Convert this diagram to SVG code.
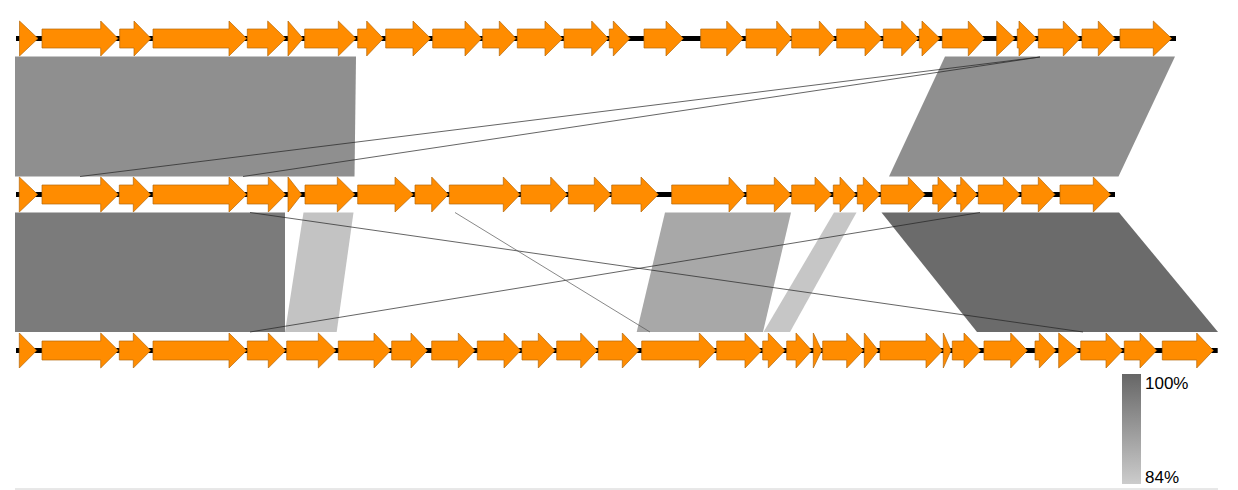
<svg xmlns="http://www.w3.org/2000/svg" width="1238" height="490" viewBox="0 0 1238 490">
<style>
.bb{stroke:#000;stroke-width:5}
.g polygon{fill:#ff8c00;stroke:#b5670a;stroke-width:0.7;stroke-linejoin:miter}
.hit{stroke:#222;stroke-width:0.7;fill:none}
.lbl{font-family:"Liberation Sans",Arial,sans-serif;font-size:17px;fill:#000}
</style>
<defs>
<linearGradient id="scale" x1="0" y1="0" x2="0" y2="1">
<stop offset="0" stop-color="#666"/>
<stop offset="1" stop-color="#ccc"/>
</linearGradient>
</defs>
<rect width="1238" height="490" fill="#fff"/>
<g id="connectors">
<polygon points="15,56.5 356,56.5 354.5,176.5 15,176.5" fill="#8f8f8f"/>
<polygon points="945,56.5 1175,56.5 1118.5,176.5 889,176.5" fill="#8f8f8f"/>
<line class="hit" x1="1040" y1="57" x2="80" y2="176.5"/>
<line class="hit" x1="1040" y1="57" x2="243" y2="176.5"/>
<polygon points="15,212.5 285,212.5 285,332 15,332" fill="#7b7b7b"/>
<polygon points="303.5,212.5 353.5,212.5 336.7,332 285,332" fill="#c3c3c3"/>
<polygon points="665,212.5 791,212.5 763,332 636.7,332" fill="#a8a8a8"/>
<polygon points="834,212.5 856.5,212.5 790,332 763.5,332" fill="#c6c6c6"/>
<polygon points="881.5,212.5 1119,212.5 1218,332 977,332" fill="#6b6b6b"/>
<line class="hit" x1="250" y1="212.5" x2="1083" y2="332"/>
<line class="hit" x1="250" y1="332" x2="980" y2="212.5"/>
<line class="hit" x1="455" y1="212.5" x2="650" y2="332" style="stroke:#555"/>
</g>
<g id="track1" transform="translate(0,38.5)">
<line class="bb" x1="16" y1="0" x2="1176" y2="0"/>
<g class="g">
<g id="t1g01"><polygon points="19.5,-17.5 38,0 19.5,17.5"/></g>
<g id="t1g02"><polygon points="42,-9.5 100.7,-9.5 100.7,-17.5 118,0 100.7,17.5 100.7,9.5 42,9.5"/></g>
<g id="t1g03"><polygon points="119.7,-9.5 134,-9.5 134,-17.5 151,0 134,17.5 134,9.5 119.7,9.5"/></g>
<g id="t1g04"><polygon points="153,-9.5 229,-9.5 229,-17.5 246.7,0 229,17.5 229,9.5 153,9.5"/></g>
<g id="t1g05"><polygon points="247.3,-9.5 267.7,-9.5 267.7,-17.5 285.7,0 267.7,17.5 267.7,9.5 247.3,9.5"/></g>
<g id="t1g06"><polygon points="288,-17.5 303,0 288,17.5"/></g>
<g id="t1g07"><polygon points="304.7,-9.5 338.3,-9.5 338.3,-17.5 356,0 338.3,17.5 338.3,9.5 304.7,9.5"/></g>
<g id="t1g08"><polygon points="357.7,-9.5 366.7,-9.5 366.7,-17.5 383.3,0 366.7,17.5 366.7,9.5 357.7,9.5"/></g>
<g id="t1g09"><polygon points="385.7,-9.5 413,-9.5 413,-17.5 430.7,0 413,17.5 413,9.5 385.7,9.5"/></g>
<g id="t1g10"><polygon points="432.7,-9.5 465,-9.5 465,-17.5 481.7,0 465,17.5 465,9.5 432.7,9.5"/></g>
<g id="t1g11"><polygon points="482.7,-9.5 499.3,-9.5 499.3,-17.5 516,0 499.3,17.5 499.3,9.5 482.7,9.5"/></g>
<g id="t1g12"><polygon points="517.3,-9.5 545,-9.5 545,-17.5 562.7,0 545,17.5 545,9.5 517.3,9.5"/></g>
<g id="t1g13"><polygon points="564,-9.5 591.7,-9.5 591.7,-17.5 608.3,0 591.7,17.5 591.7,9.5 564,9.5"/></g>
<g id="t1g14"><polygon points="609.3,-9.5 613.3,-9.5 613.3,-17.5 630,0 613.3,17.5 613.3,9.5 609.3,9.5"/></g>
<g id="t1g15"><polygon points="644,-9.5 666,-9.5 666,-17.5 683.3,0 666,17.5 666,9.5 644,9.5"/></g>
<g id="t1g16"><polygon points="700.7,-9.5 726.7,-9.5 726.7,-17.5 743.3,0 726.7,17.5 726.7,9.5 700.7,9.5"/></g>
<g id="t1g17"><polygon points="746,-9.5 776.7,-9.5 776.7,-17.5 791.7,0 776.7,17.5 776.7,9.5 746,9.5"/></g>
<g id="t1g18"><polygon points="791.7,-9.5 819.3,-9.5 819.3,-17.5 835,0 819.3,17.5 819.3,9.5 791.7,9.5"/></g>
<g id="t1g19"><polygon points="836.7,-9.5 865,-9.5 865,-17.5 882,0 865,17.5 865,9.5 836.7,9.5"/></g>
<g id="t1g20"><polygon points="883.3,-9.5 901.7,-9.5 901.7,-17.5 918.3,0 901.7,17.5 901.7,9.5 883.3,9.5"/></g>
<g id="t1g21"><polygon points="919.3,-9.5 922,-9.5 922,-17.5 940,0 922,17.5 922,9.5 919.3,9.5"/></g>
<g id="t1g22"><polygon points="942.3,-9.5 968.3,-9.5 968.3,-17.5 984.3,0 968.3,17.5 968.3,9.5 942.3,9.5"/></g>
<g id="t1g23"><polygon points="996.7,-17.5 1015,0 996.7,17.5"/></g>
<g id="t1g24"><polygon points="1017.3,-9.5 1019,-9.5 1019,-17.5 1036.7,0 1019,17.5 1019,9.5 1017.3,9.5"/></g>
<g id="t1g25"><polygon points="1038.3,-9.5 1063.3,-9.5 1063.3,-17.5 1080,0 1063.3,17.5 1063.3,9.5 1038.3,9.5"/></g>
<g id="t1g26"><polygon points="1082,-9.5 1098.3,-9.5 1098.3,-17.5 1115,0 1098.3,17.5 1098.3,9.5 1082,9.5"/></g>
<g id="t1g27"><polygon points="1120,-9.5 1153.3,-9.5 1153.3,-17.5 1171.7,0 1153.3,17.5 1153.3,9.5 1120,9.5"/></g>
</g>
</g>
<g id="track2" transform="translate(0,194.5)">
<line class="bb" x1="16" y1="0" x2="1115" y2="0"/>
<g class="g">
<g id="t2g01"><polygon points="19.3,-17.5 37.7,0 19.3,17.5"/></g>
<g id="t2g02"><polygon points="42,-9.5 100.7,-9.5 100.7,-17.5 118.3,0 100.7,17.5 100.7,9.5 42,9.5"/></g>
<g id="t2g03"><polygon points="119.3,-9.5 133.3,-9.5 133.3,-17.5 150.7,0 133.3,17.5 133.3,9.5 119.3,9.5"/></g>
<g id="t2g04"><polygon points="153,-9.5 229,-9.5 229,-17.5 246.7,0 229,17.5 229,9.5 153,9.5"/></g>
<g id="t2g05"><polygon points="247.3,-9.5 268.3,-9.5 268.3,-17.5 285.7,0 268.3,17.5 268.3,9.5 247.3,9.5"/></g>
<g id="t2g06"><polygon points="288,-17.5 301.7,0 288,17.5"/></g>
<g id="t2g07"><polygon points="305,-9.5 337.3,-9.5 337.3,-17.5 355,0 337.3,17.5 337.3,9.5 305,9.5"/></g>
<g id="t2g08"><polygon points="357.7,-9.5 395,-9.5 395,-17.5 413.3,0 395,17.5 395,9.5 357.7,9.5"/></g>
<g id="t2g09"><polygon points="415,-9.5 431.7,-9.5 431.7,-17.5 448.3,0 431.7,17.5 431.7,9.5 415,9.5"/></g>
<g id="t2g10"><polygon points="449.3,-9.5 503.3,-9.5 503.3,-17.5 520,0 503.3,17.5 503.3,9.5 449.3,9.5"/></g>
<g id="t2g11"><polygon points="521,-9.5 550.7,-9.5 550.7,-17.5 567.3,0 550.7,17.5 550.7,9.5 521,9.5"/></g>
<g id="t2g12"><polygon points="568.3,-9.5 594.3,-9.5 594.3,-17.5 611,0 594.3,17.5 594.3,9.5 568.3,9.5"/></g>
<g id="t2g13"><polygon points="611.7,-9.5 641,-9.5 641,-17.5 658.3,0 641,17.5 641,9.5 611.7,9.5"/></g>
<g id="t2g14"><polygon points="671.7,-9.5 729,-9.5 729,-17.5 745,0 729,17.5 729,9.5 671.7,9.5"/></g>
<g id="t2g15"><polygon points="746.7,-9.5 774.3,-9.5 774.3,-17.5 791,0 774.3,17.5 774.3,9.5 746.7,9.5"/></g>
<g id="t2g16"><polygon points="791.7,-9.5 815,-9.5 815,-17.5 831.7,0 815,17.5 815,9.5 791.7,9.5"/></g>
<g id="t2g17"><polygon points="833.3,-9.5 840,-9.5 840,-17.5 856,0 840,17.5 840,9.5 833.3,9.5"/></g>
<g id="t2g18"><polygon points="857.3,-9.5 863.3,-9.5 863.3,-17.5 880,0 863.3,17.5 863.3,9.5 857.3,9.5"/></g>
<g id="t2g19"><polygon points="881,-9.5 908.3,-9.5 908.3,-17.5 925,0 908.3,17.5 908.3,9.5 881,9.5"/></g>
<g id="t2g20"><polygon points="932.7,-9.5 938,-9.5 938,-17.5 955,0 938,17.5 938,9.5 932.7,9.5"/></g>
<g id="t2g21"><polygon points="956.7,-9.5 960.7,-9.5 960.7,-17.5 977.3,0 960.7,17.5 960.7,9.5 956.7,9.5"/></g>
<g id="t2g22"><polygon points="978.3,-9.5 1003.3,-9.5 1003.3,-17.5 1020,0 1003.3,17.5 1003.3,9.5 978.3,9.5"/></g>
<g id="t2g23"><polygon points="1021.7,-9.5 1038.3,-9.5 1038.3,-17.5 1055,0 1038.3,17.5 1038.3,9.5 1021.7,9.5"/></g>
<g id="t2g24"><polygon points="1060,-9.5 1093.3,-9.5 1093.3,-17.5 1110.7,0 1093.3,17.5 1093.3,9.5 1060,9.5"/></g>
</g>
</g>
<g id="track3" transform="translate(0,350.5)">
<line class="bb" x1="16" y1="0" x2="1217.7" y2="0"/>
<g class="g">
<g id="t3g01"><polygon points="19.3,-17.5 36.7,0 19.3,17.5"/></g>
<g id="t3g02"><polygon points="42,-9.5 100.7,-9.5 100.7,-17.5 118.3,0 100.7,17.5 100.7,9.5 42,9.5"/></g>
<g id="t3g03"><polygon points="119.3,-9.5 133.3,-9.5 133.3,-17.5 150.7,0 133.3,17.5 133.3,9.5 119.3,9.5"/></g>
<g id="t3g04"><polygon points="153,-9.5 229,-9.5 229,-17.5 246.7,0 229,17.5 229,9.5 153,9.5"/></g>
<g id="t3g05"><polygon points="247.3,-9.5 268.3,-9.5 268.3,-17.5 285.7,0 268.3,17.5 268.3,9.5 247.3,9.5"/></g>
<g id="t3g06"><polygon points="286.7,-9.5 318.3,-9.5 318.3,-17.5 336,0 318.3,17.5 318.3,9.5 286.7,9.5"/></g>
<g id="t3g07"><polygon points="338.3,-9.5 374,-9.5 374,-17.5 390.7,0 374,17.5 374,9.5 338.3,9.5"/></g>
<g id="t3g08"><polygon points="391.7,-9.5 411,-9.5 411,-17.5 427.3,0 411,17.5 411,9.5 391.7,9.5"/></g>
<g id="t3g09"><polygon points="431.7,-9.5 458.3,-9.5 458.3,-17.5 475,0 458.3,17.5 458.3,9.5 431.7,9.5"/></g>
<g id="t3g10"><polygon points="477.3,-9.5 504,-9.5 504,-17.5 520.7,0 504,17.5 504,9.5 477.3,9.5"/></g>
<g id="t3g11"><polygon points="522,-9.5 538.3,-9.5 538.3,-17.5 555,0 538.3,17.5 538.3,9.5 522,9.5"/></g>
<g id="t3g12"><polygon points="556.7,-9.5 580.7,-9.5 580.7,-17.5 597.3,0 580.7,17.5 580.7,9.5 556.7,9.5"/></g>
<g id="t3g13"><polygon points="598.3,-9.5 622.3,-9.5 622.3,-17.5 639,0 622.3,17.5 622.3,9.5 598.3,9.5"/></g>
<g id="t3g14"><polygon points="641.7,-9.5 699.3,-9.5 699.3,-17.5 716,0 699.3,17.5 699.3,9.5 641.7,9.5"/></g>
<g id="t3g15"><polygon points="716.7,-9.5 745,-9.5 745,-17.5 761.7,0 745,17.5 745,9.5 716.7,9.5"/></g>
<g id="t3g16"><polygon points="762.7,-9.5 768.3,-9.5 768.3,-17.5 785,0 768.3,17.5 768.3,9.5 762.7,9.5"/></g>
<g id="t3g17"><polygon points="786.7,-9.5 796,-9.5 796,-17.5 811.7,0 796,17.5 796,9.5 786.7,9.5"/></g>
<g id="t3g18"><polygon points="813.3,-17.5 821.7,0 813.3,17.5"/></g>
<g id="t3g19"><polygon points="822.7,-9.5 846.7,-9.5 846.7,-17.5 863.3,0 846.7,17.5 846.7,9.5 822.7,9.5"/></g>
<g id="t3g20"><polygon points="864.3,-17.5 878.3,0 864.3,17.5"/></g>
<g id="t3g21"><polygon points="880,-9.5 926,-9.5 926,-17.5 942.7,0 926,17.5 926,9.5 880,9.5"/></g>
<g id="t3g22"><polygon points="943.3,-17.5 951,0 943.3,17.5"/></g>
<g id="t3g23"><polygon points="952.3,-9.5 964,-9.5 964,-17.5 980.7,0 964,17.5 964,9.5 952.3,9.5"/></g>
<g id="t3g24"><polygon points="984,-9.5 1010.7,-9.5 1010.7,-17.5 1027.3,0 1010.7,17.5 1010.7,9.5 984,9.5"/></g>
<g id="t3g25"><polygon points="1035,-9.5 1039.3,-9.5 1039.3,-17.5 1056,0 1039.3,17.5 1039.3,9.5 1035,9.5"/></g>
<g id="t3g26"><polygon points="1058.7,-17.5 1079.3,0 1058.7,17.5"/></g>
<g id="t3g27"><polygon points="1080.7,-9.5 1106,-9.5 1106,-17.5 1122.7,0 1106,17.5 1106,9.5 1080.7,9.5"/></g>
<g id="t3g28"><polygon points="1124.3,-9.5 1140,-9.5 1140,-17.5 1156.7,0 1140,17.5 1140,9.5 1124.3,9.5"/></g>
<g id="t3g29"><polygon points="1162.3,-9.5 1196.7,-9.5 1196.7,-17.5 1213.3,0 1196.7,17.5 1196.7,9.5 1162.3,9.5"/></g>
</g>
</g>
<g id="legend">
<rect x="1122" y="374" width="19" height="110" fill="url(#scale)"/>
<text class="lbl" x="1145" y="389">100%</text>
<text class="lbl" x="1145" y="483">84%</text>
</g>
<line x1="15" y1="489" x2="1218" y2="489" stroke="#d0d0d0" stroke-width="1"/>
</svg>
